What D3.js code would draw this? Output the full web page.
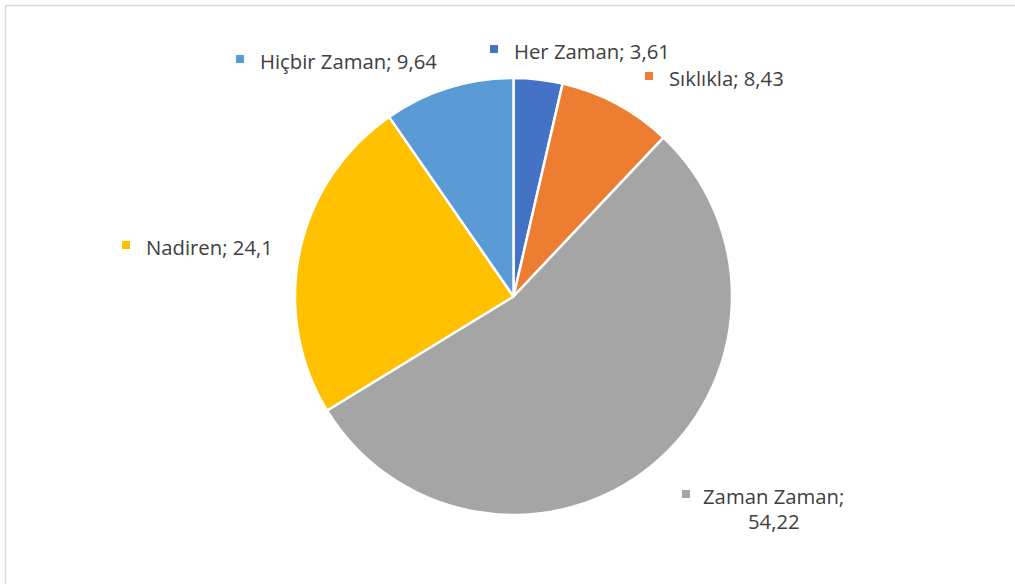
<!DOCTYPE html>
<html>
<head>
<meta charset="utf-8">
<script src="https://cdn.jsdelivr.net/npm/d3@7"></script>
<style>
  body { margin: 0; background: #fff; }
  svg { display: block; }
</style>
</head>
<body>
<svg id="chart"></svg>
<script>
const width = 1015;
const height = 584;

// data
const categories = ["Her Zaman", "Sıklıkla", "Zaman Zaman", "Nadiren", "Hiçbir Zaman"];
const values = [3.61, 8.43, 54.22, 24.1, 9.64];
const valueLabels = ["3,61", "8,43", "54,22", "24,1", "9,64"];
const colors = ["#4472C4", "#ED7D31", "#A5A5A5", "#FFC000", "#5B9BD5"];

// label placement (marker top-left), same order as categories
const labelPos = [
  [490, 45], [645, 72], [682, 490], [122, 241], [236, 55]
];

const cx = 513.5, cy = 296.5, radius = 218.5;

const svg = d3.select("#chart")
  .attr("width", width)
  .attr("height", height);

// chart area border
svg.append("rect")
  .attr("x", 5.5)
  .attr("y", 5.5)
  .attr("width", width + 20)
  .attr("height", height + 20)
  .attr("fill", "#fff")
  .attr("stroke", "#d9d9d9")
  .attr("stroke-width", 1.5);

const data = categories.map((c, i) => ({ name: c, value: values[i], label: valueLabels[i], color: colors[i] }));

const pie = d3.pie()
  .value(d => d.value)
  .sort(null);

const arc = d3.arc()
  .innerRadius(0)
  .outerRadius(radius);

const g = svg.append("g")
  .attr("transform", `translate(${cx}, ${cy})`);

g.selectAll("path")
  .data(pie(data))
  .enter()
  .append("path")
  .attr("d", arc)
  .attr("fill", d => d.data.color)
  .attr("stroke", "#fff")
  .attr("stroke-width", 2.5)
  .attr("stroke-linejoin", "round");

// data labels
const labels = svg.selectAll(".label")
  .data(data)
  .enter()
  .append("g")
  .attr("class", "label")
  .attr("transform", (d, i) => `translate(${labelPos[i][0]}, ${labelPos[i][1]})`);

labels.append("rect")
  .attr("width", 8)
  .attr("height", 8)
  .attr("fill", d => d.color);

labels.each(function (d) {
  const lg = d3.select(this);
  const t = lg.append("text")
    .attr("font-family", "'Open Sans', sans-serif")
    .attr("font-size", 20.3)
    .attr("fill", "#404040");
  if (d.name === "Zaman Zaman") {
    t.append("tspan").attr("x", 21).attr("y", 13.5).text(d.name + ";");
    t.append("tspan").attr("x", 66).attr("y", 38.5).text(d.label);
  } else {
    t.append("tspan").attr("x", 24).attr("y", 13.5).text(d.name + "; " + d.label);
  }
});
</script>
</body>
</html>
